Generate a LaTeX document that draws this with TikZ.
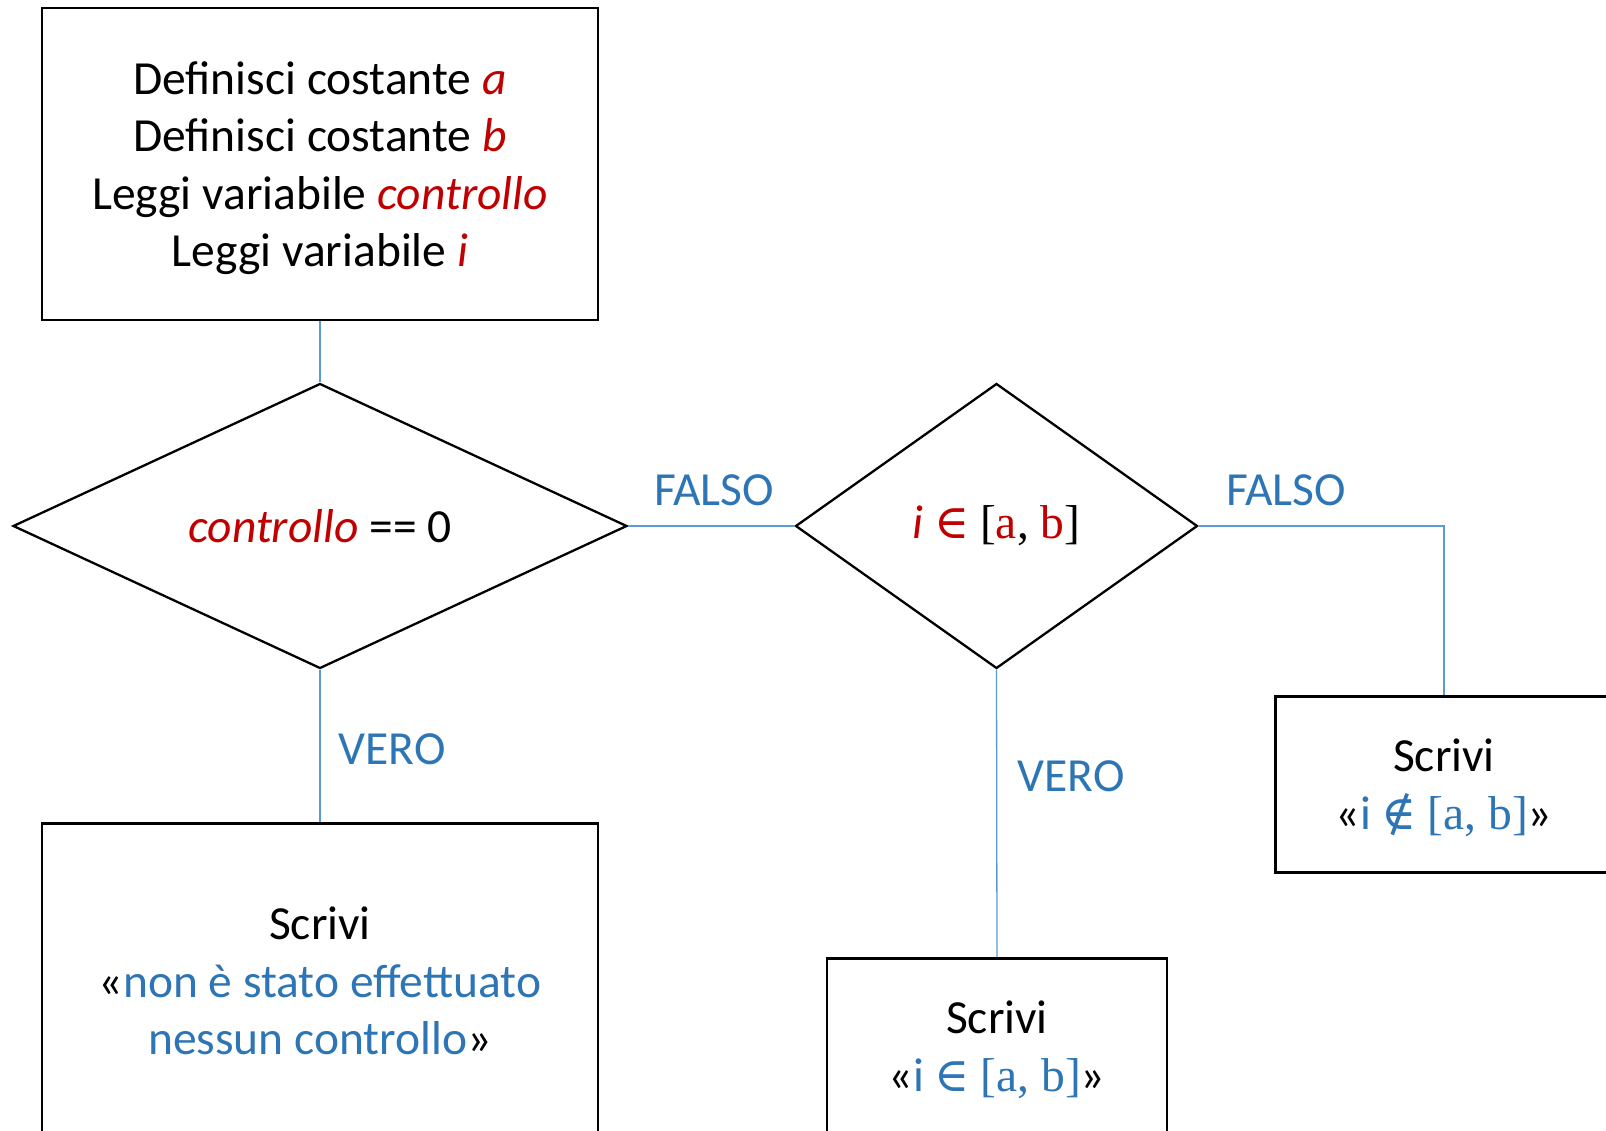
\documentclass[tikz,border=0pt]{standalone}
\usepackage{fontspec}
\setmainfont{Carlito}
\newfontfamily\serifm{Liberation Serif}
\newfontfamily\symf{DejaVu Serif}
\usetikzlibrary{shapes.geometric}
\definecolor{myred}{HTML}{C00000}
\definecolor{myblue}{HTML}{2E75B6}
\definecolor{linkblue}{HTML}{5B9BD5}
\tikzset{
  box/.style={draw=black, line width=2.6pt, rectangle, inner sep=0pt},
  dia/.style={draw=black, line width=2.3pt, diamond, inner sep=0pt},
  link/.style={draw=linkblue, line width=1.3pt},
  lbl/.style={text=myblue, inner sep=0pt, font=\fontsize{47.5}{57.5}\selectfont},
  txt/.style={align=center, inner sep=0pt, font=\fontsize{47.5}{57.5}\selectfont}
}
\begin{document}
\begin{tikzpicture}[x=1pt,y=-1pt]
\useasboundingbox (0,0) rectangle (1606,1131);
\clip (0,0) rectangle (1606,1131);
% boxes
\node[box, minimum width=556pt, minimum height=312pt] (start) at (320,164) {};
\node[txt] at (320,168) {Definisci costante \textcolor{myred}{\textit{a}}\\Definisci costante \textcolor{myred}{\textit{b}}\\Leggi variabile \textcolor{myred}{\textit{controllo}}\\Leggi variabile \textcolor{myred}{\textit{i}}};
\node[dia, minimum width=614pt, minimum height=285pt] (d1) at (320,526) {};
\node[txt] at (d1.center) {\textcolor{myred}{\textit{controllo}} == 0};
\node[dia, minimum width=402pt, minimum height=285pt] (d2) at (996.5,526) {};
\node[txt] at (d2.center) {\textcolor{myred}{\textit{i} {\symf ∈}} {\serifm [\textcolor{myred}{a}, \textcolor{myred}{b}]}};
\node[box, anchor=north, minimum width=556pt, minimum height=330pt] (bv) at (320,822) {};
\node[txt] at (320,981) {Scrivi\\«\textcolor{myblue}{non è stato effettuato}\\\textcolor{myblue}{nessun controllo}»};
\node[box, anchor=north, minimum width=340pt, minimum height=200pt] (bm) at (997,957) {};
\node[txt] at (997,1050) {Scrivi\\«\textcolor{myblue}{i {\symf ∈} {\serifm [a, b]}}»};
\node[box, anchor=north west, minimum width=360pt, minimum height=176pt] (br) at (1274,695) {};
\node[txt] at (1444,788) {Scrivi\\«\textcolor{myblue}{i {\symf ∉} {\serifm [a, b]}}»};
\coordinate (brtop) at (1444,695);
% connectors
\draw[link] (start.south) -- (d1.north);
\draw[link] (d1.east) -- (d2.west);
\draw[link] (d1.south) -- (bv.north);
\draw[link] (d2.south) -- (bm.north);
\draw[link] (d2.east) -| (brtop);
% labels
\node[lbl] at (714,490) {FALSO};
\node[lbl] at (1286,490) {FALSO};
\node[lbl] at (392,749) {VERO};
\node[lbl] at (1071,776) {VERO};
\end{tikzpicture}
\end{document}
